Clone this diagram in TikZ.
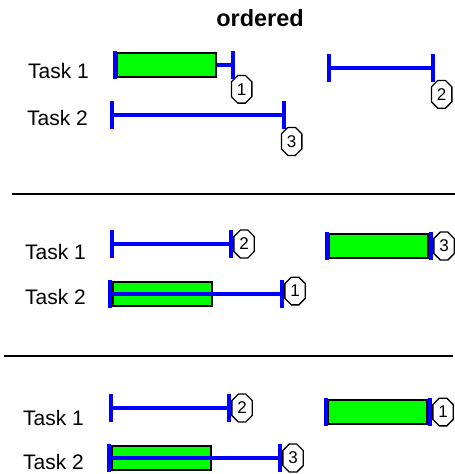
\documentclass[tikz,border=0pt]{standalone}
\usepackage{fontspec}
\setmainfont{Liberation Sans}
\usepackage{tikz}
\usetikzlibrary{shapes.misc,positioning}
\definecolor{spanblue}{RGB}{0,0,255}
\definecolor{busygreen}{RGB}{0,255,0}

\tikzset{
  tasklabel/.style={anchor=base west, inner sep=0pt, font=\fontsize{21}{25}\selectfont},
  spanline/.style={spanblue, line width=4pt},
  endtick/.style={rectangle, fill=spanblue, minimum width=4pt, minimum height=28pt, inner sep=0pt},
  busybar/.style={rectangle, draw=black, line width=1.5pt, fill=busygreen, minimum width=99pt, minimum height=24pt, inner sep=0pt, anchor=west},
  seqmark/.style={chamfered rectangle, chamfered rectangle xsep=3pt, chamfered rectangle ysep=3.5pt, draw=black, line width=1.3pt, fill=white, inner xsep=2.5pt, inner ysep=4.5pt, font=\fontsize{17}{17}\selectfont},
  divider/.style={black, line width=1.6pt}
}

\begin{document}
\begin{tikzpicture}[x=1pt, y=-1pt]
    \useasboundingbox (0,0) rectangle (455,474);

    \node[font=\bfseries\fontsize{23.5}{28}\selectfont, anchor=base, inner sep=0pt] (title) at (260,26) {ordered};

    % first ordering
    \node[tasklabel] (aT1) at (28,78) {Task 1};
    \node[tasklabel] (aT2) at (27,125) {Task 2};

    \coordinate (a1s) at (115,65);
    \coordinate (a1e) at (233,65);
    \draw[spanline] (a1s) -- (a1e);
    \node[busybar] (a1bar) at (116,65) {};
    \node[endtick] (a1l) at (a1s) {};
    \node[endtick] (a1r) at (a1e) {};
    \node[seqmark, below right=-1pt and -1pt of a1r] (a1n) {1};

    \coordinate (a2s) at (329,68);
    \coordinate (a2e) at (433,68);
    \draw[spanline] (a2s) -- (a2e);
    \node[endtick] (a2l) at (a2s) {};
    \node[endtick] (a2r) at (a2e) {};
    \node[seqmark, below right=1pt and -1pt of a2r] (a2n) {2};

    \coordinate (a3s) at (112,115);
    \coordinate (a3e) at (284,115);
    \draw[spanline] (a3s) -- (a3e);
    \node[endtick] (a3l) at (a3s) {};
    \node[endtick] (a3r) at (a3e) {};
    \node[seqmark, below right=1pt and -2pt of a3r] (a3n) {3};

    \draw[divider] (12,194) -- (455,194);

    % second ordering
    \node[tasklabel] (bT1) at (25,259) {Task 1};
    \node[tasklabel] (bT2) at (25,304) {Task 2};

    \coordinate (b1s) at (112,244);
    \coordinate (b1e) at (231,244);
    \draw[spanline] (b1s) -- (b1e);
    \node[endtick] (b1l) at (b1s) {};
    \node[endtick] (b1r) at (b1e) {};
    \node[seqmark, right=0pt of b1r] (b1n) {2};

    \coordinate (b2s) at (327,246);
    \coordinate (b2e) at (431,246);
    \node[busybar] (b2bar) at (328,246) {};
    \node[endtick] (b2l) at (b2s) {};
    \node[endtick] (b2r) at (b2e) {};
    \node[seqmark, right=0pt of b2r] (b2n) {3};

    \coordinate (b3s) at (110,294);
    \coordinate (b3e) at (282,294);
    \node[busybar] (b3bar) at (112,294) {};
    \draw[spanline] (b3s) -- (b3e);
    \node[endtick] (b3l) at (b3s) {};
    \node[endtick] (b3r) at (b3e) {};
    \node[seqmark, right=0pt of b3r, yshift=3pt] (b3n) {1};

    \draw[divider] (4,356) -- (453,356);

    % third ordering
    \node[tasklabel] (cT1) at (23,425) {Task 1};
    \node[tasklabel] (cT2) at (23,469) {Task 2};

    \coordinate (c1s) at (111,408);
    \coordinate (c1e) at (229,408);
    \draw[spanline] (c1s) -- (c1e);
    \node[endtick] (c1l) at (c1s) {};
    \node[endtick] (c1r) at (c1e) {};
    \node[seqmark, right=0pt of c1r] (c1n) {2};

    \coordinate (c2s) at (326,412);
    \coordinate (c2e) at (430,412);
    \node[busybar] (c2bar) at (327,412) {};
    \node[endtick] (c2l) at (c2s) {};
    \node[endtick] (c2r) at (c2e) {};
    \node[seqmark, right=0pt of c2r] (c2n) {1};

    \coordinate (c3s) at (109,458);
    \coordinate (c3e) at (280,458);
    \node[busybar] (c3bar) at (111,458) {};
    \draw[spanline] (c3s) -- (c3e);
    \node[endtick] (c3l) at (c3s) {};
    \node[endtick] (c3r) at (c3e) {};
    \node[seqmark, right=0pt of c3r] (c3n) {3};
\end{tikzpicture}
\end{document}
